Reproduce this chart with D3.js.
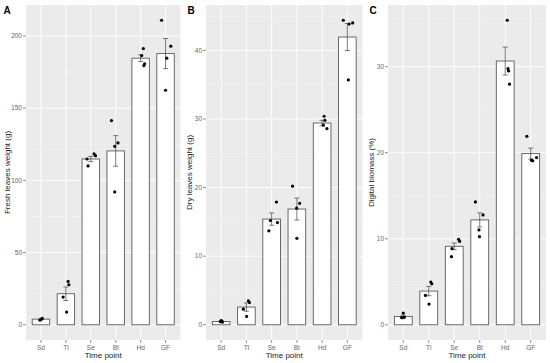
<!DOCTYPE html>
<html>
<head>
<meta charset="utf-8">
<script src="https://cdn.jsdelivr.net/npm/d3@7"></script>
<style>
  html, body { margin: 0; padding: 0; background: #fff; }
  svg { display: block; font-family: "Liberation Sans", Arial, sans-serif; }
</style>
</head>
<body>
<div id="chart"></div>
<script>
// categories shared by all three panels
const stages = ["Sd", "Tl", "Se", "Bt", "Hd", "GF"];

// panel A: fresh leaves weight (g)
const freshMean = [3.9, 21.5, 114.8, 120.4, 184.6, 187.8];
const freshSe = [0.3, 4.7, 1.8, 10.6, 2.3, 10.4];
const freshPoints = [
  [3.2, 4.2, 3.6, 4.4],
  [30.0, 27.7, 19.2, 8.8],
  [114.8, 110.0, 118.3, 117.1],
  [141.4, 125.9, 123.6, 92.0],
  [191.3, 186.4, 180.7, 179.5],
  [210.9, 192.9, 184.6, 162.4]
];
const freshJitter = [
  [-0.04, 0.04, 0, 0.05],
  [0.09, 0.12, -0.11, 0.03],
  [-0.15, -0.11, 0.13, 0.19],
  [-0.17, 0.09, -0.04, -0.04],
  [0.11, 0.04, 0.16, 0.13],
  [-0.16, 0.21, 0.05, 0]
];
const freshTicks = [0, 50, 100, 150, 200];

// panel B: dry leaves weight (g)
const dryMean = [0.48, 2.58, 15.41, 16.87, 29.41, 41.95];
const drySe = [0.05, 0.61, 0.9, 1.6, 0.4, 1.97];
const dryPoints = [
  [0.45, 0.55, 0.6, 0.4],
  [3.5, 3.25, 2.28, 1.21],
  [17.9, 15.2, 14.9, 13.7],
  [20.2, 17.7, 17.0, 12.6],
  [30.4, 29.8, 29.1, 28.6],
  [44.4, 43.85, 44.0, 35.7]
];
const dryJitter = [
  [-0.03, 0.03, 0, 0.05],
  [0.08, 0.12, -0.12, 0.01],
  [0.19, -0.05, 0.23, -0.11],
  [-0.17, 0.11, -0.01, 0],
  [0.08, 0.11, 0.05, 0.19],
  [-0.16, 0.07, 0.21, 0.04]
];
const dryTicks = [0, 10, 20, 30, 40];

// panel C: digital biomass (%)
const digMean = [0.97, 3.92, 9.12, 12.19, 30.66, 19.9];
const digSe = [0.13, 0.54, 0.39, 0.82, 1.62, 0.64];
const digPoints = [
  [1.36, 0.84, 0.86, 0.82],
  [4.97, 4.77, 3.41, 2.41],
  [9.93, 9.7, 8.85, 7.92],
  [14.28, 12.77, 11.02, 10.24],
  [35.4, 29.77, 29.5, 27.97],
  [21.9, 19.44, 19.13, 19.06]
];
const digJitter = [
  [0, -0.07, 0.04, -0.03],
  [0.08, 0.12, -0.13, 0.01],
  [0.17, 0.21, -0.09, -0.11],
  [-0.17, 0.13, -0.03, -0.01],
  [0.08, 0.11, 0.13, 0.17],
  [-0.15, 0.23, 0.03, 0.08]
];
const digTicks = [0, 10, 20, 30];

const width = 550;
const height = 363;
const panelTop = 5;
const panelBottom = 340;

const svg = d3.select("#chart")
  .append("svg")
  .attr("width", width)
  .attr("height", height);

// draw one ggplot-like panel
function drawPanel(opt) {
  const x = d3.scalePoint()
    .domain(stages)
    .range([opt.left, opt.right])
    .padding(0.6);
  const step = x.step();

  const maxVal = d3.max([
    d3.max(opt.points.flat()),
    d3.max(opt.mean.map((m, i) => m + opt.se[i]))
  ]);
  const y = d3.scaleLinear()
    .domain([-0.05 * maxVal, 1.05 * maxVal])
    .range([panelBottom, panelTop]);

  const g = svg.append("g");

  // grey background
  g.append("rect")
    .attr("x", opt.left)
    .attr("y", panelTop)
    .attr("width", opt.right - opt.left)
    .attr("height", panelBottom - panelTop)
    .attr("fill", "#EBEBEB");

  // minor horizontal grid
  const tstep = opt.ticks[1] - opt.ticks[0];
  const minor = d3.range(opt.ticks[0] - tstep / 2, y.domain()[1], tstep)
    .filter(v => v > y.domain()[0]);
  g.selectAll("line.minor")
    .data(minor)
    .enter()
    .append("line")
    .attr("x1", opt.left)
    .attr("x2", opt.right)
    .attr("y1", d => y(d))
    .attr("y2", d => y(d))
    .style("stroke", "#fff")
    .style("stroke-width", 0.4)
    .style("opacity", 0.7);

  // major horizontal grid
  g.selectAll("line.majorY")
    .data(opt.ticks)
    .enter()
    .append("line")
    .attr("x1", opt.left)
    .attr("x2", opt.right)
    .attr("y1", d => y(d))
    .attr("y2", d => y(d))
    .style("stroke", "#fff")
    .style("stroke-width", 0.9);

  // vertical grid
  g.selectAll("line.majorX")
    .data(stages)
    .enter()
    .append("line")
    .attr("x1", d => x(d))
    .attr("x2", d => x(d))
    .attr("y1", panelTop)
    .attr("y2", panelBottom)
    .style("stroke", "#fff")
    .style("stroke-width", 0.9);

  // bars
  const barW = step * 0.7;
  g.selectAll("rect.bar")
    .data(opt.mean)
    .enter()
    .append("rect")
    .attr("x", (d, i) => x(stages[i]) - barW / 2)
    .attr("y", d => y(d))
    .attr("width", barW)
    .attr("height", d => y(0) - y(d))
    .attr("fill", "#fff")
    .attr("stroke", "#5a5a5a")
    .attr("stroke-width", 0.9);

  // error bars
  const capW = step * 0.1;
  opt.mean.forEach((m, i) => {
    const cx = x(stages[i]);
    const lo = y(m - opt.se[i]);
    const hi = y(m + opt.se[i]);
    const eb = g.append("g")
      .style("stroke", "#444")
      .style("stroke-width", 0.7);
    eb.append("line").attr("x1", cx).attr("x2", cx).attr("y1", lo).attr("y2", hi);
    eb.append("line").attr("x1", cx - capW).attr("x2", cx + capW).attr("y1", lo).attr("y2", lo);
    eb.append("line").attr("x1", cx - capW).attr("x2", cx + capW).attr("y1", hi).attr("y2", hi);
  });

  // jittered points
  const pts = [];
  opt.points.forEach((arr, i) => {
    arr.forEach((v, j) => pts.push({ cat: stages[i], v: v, jit: opt.jitter[i][j] }));
  });
  g.selectAll("circle")
    .data(pts)
    .enter()
    .append("circle")
    .attr("cx", d => x(d.cat) + d.jit * step)
    .attr("cy", d => y(d.v))
    .attr("r", 1.6)
    .attr("fill", "#000");

  // y axis ticks
  g.selectAll("line.ytick")
    .data(opt.ticks)
    .enter()
    .append("line")
    .attr("x1", opt.left - 3)
    .attr("x2", opt.left)
    .attr("y1", d => y(d))
    .attr("y2", d => y(d))
    .style("stroke", "#444")
    .style("stroke-width", 0.6);
  g.selectAll("text.ytick")
    .data(opt.ticks)
    .enter()
    .append("text")
    .attr("x", opt.left - 4)
    .attr("y", d => y(d))
    .attr("dy", "0.35em")
    .attr("text-anchor", "end")
    .attr("font-size", 6.5)
    .attr("fill", "#666")
    .text(d => d);

  // x axis ticks
  g.selectAll("line.xtick")
    .data(stages)
    .enter()
    .append("line")
    .attr("x1", d => x(d))
    .attr("x2", d => x(d))
    .attr("y1", panelBottom)
    .attr("y2", panelBottom + 3)
    .style("stroke", "#444")
    .style("stroke-width", 0.6);
  g.selectAll("text.xtick")
    .data(stages)
    .enter()
    .append("text")
    .attr("x", d => x(d))
    .attr("y", panelBottom + 10)
    .attr("text-anchor", "middle")
    .attr("font-size", 6.5)
    .attr("fill", "#666")
    .text(d => d);

  // axis titles
  g.append("text")
    .attr("x", (opt.left + opt.right) / 2)
    .attr("y", 358)
    .attr("text-anchor", "middle")
    .attr("font-size", 8)
    .attr("fill", "#222")
    .text("Time point");
  g.append("text")
    .attr("transform", `translate(${opt.titleX},${(panelTop + panelBottom) / 2}) rotate(-90)`)
    .attr("text-anchor", "middle")
    .attr("font-size", 8)
    .attr("fill", "#222")
    .text(opt.title);

  // panel tag
  g.append("text")
    .attr("x", opt.tagX)
    .attr("y", 14)
    .attr("font-size", 10)
    .attr("font-weight", "bold")
    .attr("fill", "#000")
    .text(opt.tag);
}

drawPanel({
  tag: "A", tagX: 3.5, left: 26, right: 180.5, titleX: 10,
  title: "Fresh leaves weight (g)",
  mean: freshMean, se: freshSe, points: freshPoints, jitter: freshJitter, ticks: freshTicks
});
drawPanel({
  tag: "B", tagX: 187.5, left: 206, right: 362.5, titleX: 192,
  title: "Dry leaves weight (g)",
  mean: dryMean, se: drySe, points: dryPoints, jitter: dryJitter, ticks: dryTicks
});
drawPanel({
  tag: "C", tagX: 369.5, left: 388, right: 546, titleX: 374,
  title: "Digital biomass (%)",
  mean: digMean, se: digSe, points: digPoints, jitter: digJitter, ticks: digTicks
});
</script>
</body>
</html>
